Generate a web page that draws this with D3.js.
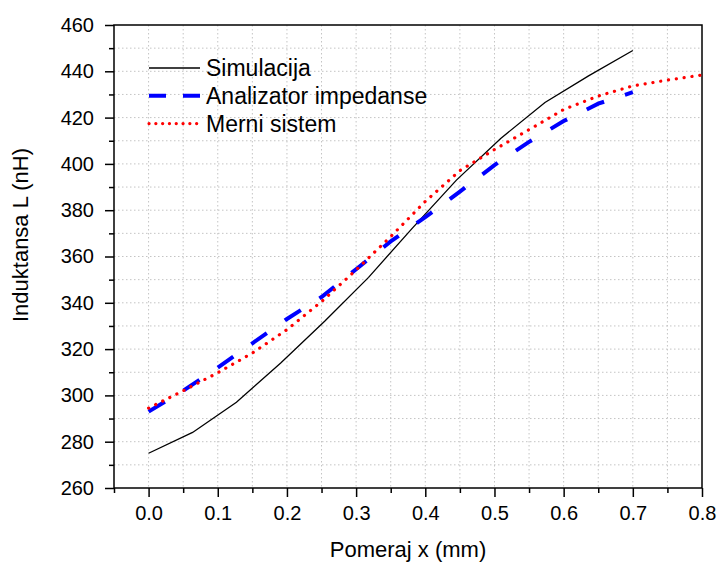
<!DOCTYPE html>
<html>
<head>
<meta charset="utf-8">
<script src="https://cdn.jsdelivr.net/npm/d3@7"></script>
<style>
    body { margin: 0; background: #fff; }
    svg { display: block; font-family: Arial, "Liberation Sans", sans-serif; }
</style>
</head>
<body>
<div id="chart"></div>
<script>
// Simulacija - black solid
const simX = [0, 0.0636, 0.127, 0.191, 0.2545, 0.318, 0.382, 0.445, 0.509, 0.573, 0.636, 0.7];
const simY = [275, 284, 297, 314, 332, 351, 372.5, 393, 411, 426.5, 438, 449];

// Analizator impedanse - blue dashed
const anaX = [0, 0.05, 0.1, 0.15, 0.2, 0.25, 0.3, 0.35, 0.4, 0.45, 0.5, 0.55, 0.6, 0.65, 0.7];
const anaY = [293, 302, 312, 322.5, 333, 342.5, 354.5, 366.5, 377, 388, 399.5, 409.5, 418.5, 426, 431];

// Merni sistem - red dotted
const merX = [0, 0.05, 0.1, 0.15, 0.2, 0.25, 0.3, 0.35, 0.4, 0.45, 0.5, 0.55, 0.6, 0.65, 0.7, 0.75, 0.8];
const merY = [294.5, 302, 309.8, 318.3, 328.4, 340.5, 354.2, 368.6, 383.8, 397.1, 406.2, 414.8, 423.5, 429.3, 433.7, 436.2, 438.4];

const seriesNames = ['Simulacija', 'Analizator impedanse', 'Merni sistem'];

const xMajor = [0, 0.1, 0.2, 0.3, 0.4, 0.5, 0.6, 0.7, 0.8];
const xMinor = [-0.05, 0.05, 0.15, 0.25, 0.35, 0.45, 0.55, 0.65, 0.75];
const yMajor = [260, 280, 300, 320, 340, 360, 380, 400, 420, 440, 460];
const yMinor = [270, 290, 310, 330, 350, 370, 390, 410, 430, 450];

const xTitle = 'Pomeraj x (mm)';
const yTitle = 'Induktansa L (nH)';

const margin = {top: 25, right: 15, bottom: 75, left: 114};
const width = 717 - margin.left - margin.right;
const height = 563 - margin.top - margin.bottom;

const svg = d3.select('#chart')
    .append('svg')
        .attr('width', 717)
        .attr('height', 563)
    .append('g')
        .attr('transform', `translate(${margin.left},${margin.top})`);

const x = d3.scaleLinear()
    .domain([-0.05, 0.8])
    .range([0, width]);

const y = d3.scaleLinear()
    .domain([260, 460])
    .range([height, 0]);

// dotted grid
const grid = svg.append('g')
    .attr('stroke', '#c4c4c4')
    .attr('stroke-width', 1)
    .attr('stroke-dasharray', '1.5,2.5');

grid.selectAll('.gx')
    .data(xMajor.concat(xMinor).filter(d => d > -0.05 && d < 0.8))
    .enter()
    .append('line')
        .attr('x1', d => x(d))
        .attr('x2', d => x(d))
        .attr('y1', 0)
        .attr('y2', height);

grid.selectAll('.gy')
    .data(yMajor.concat(yMinor).filter(d => d > 260 && d < 460))
    .enter()
    .append('line')
        .attr('x1', 0)
        .attr('x2', width)
        .attr('y1', d => y(d))
        .attr('y2', d => y(d));

// axes
const xAxis = svg.append('g')
    .attr('transform', `translate(0,${height})`)
    .call(d3.axisBottom(x).tickValues(xMajor).tickSize(9).tickFormat(d3.format('.1f')));
xAxis.select('.domain').remove();
xAxis.selectAll('text')
    .attr('y', 32)
    .attr('dy', 0)
    .style('font-size', '20px');

const xAxisMinor = svg.append('g')
    .attr('transform', `translate(0,${height})`)
    .call(d3.axisBottom(x).tickValues(xMinor).tickSize(5).tickFormat(''));
xAxisMinor.select('.domain').remove();

const yAxis = svg.append('g')
    .call(d3.axisLeft(y).tickValues(yMajor).tickSize(9).tickPadding(11));
yAxis.select('.domain').remove();
yAxis.selectAll('text')
    .style('font-size', '20px');

const yAxisMinor = svg.append('g')
    .call(d3.axisLeft(y).tickValues(yMinor).tickSize(5).tickFormat(''));
yAxisMinor.select('.domain').remove();

svg.selectAll('.tick line')
    .attr('stroke', '#000')
    .attr('stroke-width', 1.5);

// frame
svg.append('rect')
    .attr('x', 0)
    .attr('y', 0)
    .attr('width', width)
    .attr('height', height)
    .attr('fill', 'none')
    .attr('stroke', '#000')
    .attr('stroke-width', 1.5);

// curves
const line = d3.line()
    .x(d => x(d[0]))
    .y(d => y(d[1]));

const styles = [
    {color: '#000', width: 1.3, dash: null, cap: 'butt'},
    {color: '#0000ff', width: 4, dash: '19,22', cap: 'butt'},
    {color: '#ff0000', width: 3.2, dash: '0.1,7.8', cap: 'round'}
];

const series = [
    d3.zip(simX, simY),
    d3.zip(anaX, anaY),
    d3.zip(merX, merY)
];

series.forEach((s, i) => {
    svg.append('path')
        .datum(s)
        .attr('fill', 'none')
        .attr('stroke', styles[i].color)
        .attr('stroke-width', styles[i].width)
        .attr('stroke-dasharray', styles[i].dash)
        .attr('stroke-linecap', styles[i].cap)
        .attr('d', line);
});

// legend
const legendDash = [null, '17,17', '0.1,6.7'];
const legend = svg.selectAll('.legend')
    .data(seriesNames)
    .enter()
    .append('g')
        .attr('transform', (d, i) => `translate(35,${43 + i * 27.8})`);

legend.append('line')
    .attr('x1', 0)
    .attr('x2', 51)
    .attr('stroke', (d, i) => styles[i].color)
    .attr('stroke-width', (d, i) => styles[i].width)
    .attr('stroke-dasharray', (d, i) => legendDash[i])
    .attr('stroke-linecap', (d, i) => styles[i].cap);

legend.append('text')
    .attr('x', 57)
    .attr('y', 8)
    .style('font-size', '23px')
    .text(d => d);

// axis titles
svg.append('text')
    .attr('text-anchor', 'middle')
    .attr('x', 408 - margin.left)
    .attr('y', 557 - margin.top)
    .style('font-size', '22px')
    .text(xTitle);

svg.append('text')
    .attr('text-anchor', 'middle')
    .attr('transform', 'rotate(-90)')
    .attr('x', -(235 - margin.top))
    .attr('y', 28 - margin.left)
    .style('font-size', '22px')
    .text(yTitle);
</script>
</body>
</html>
